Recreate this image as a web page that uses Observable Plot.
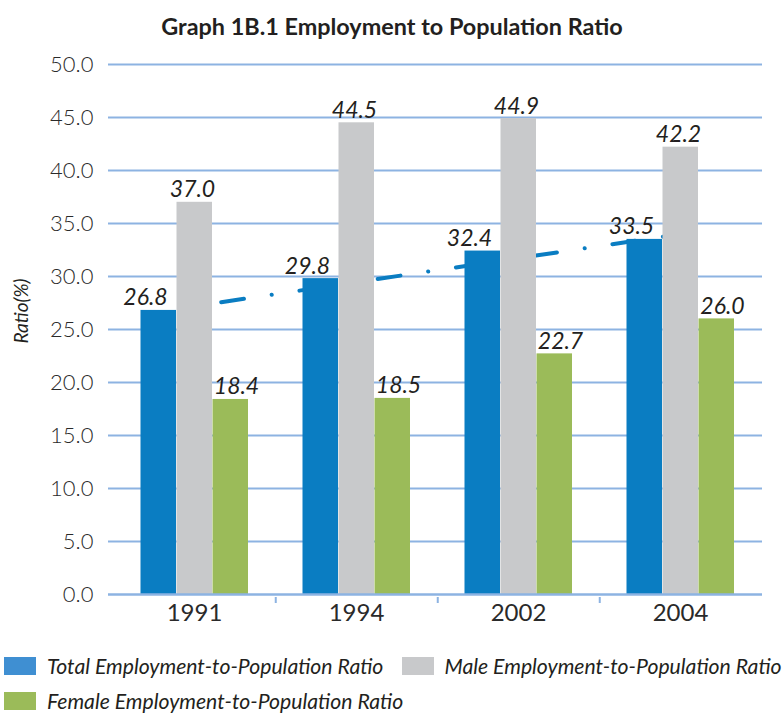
<!DOCTYPE html>
<html><head><meta charset="utf-8">
<script src="https://cdn.jsdelivr.net/npm/d3@7"></script>
<script src="https://cdn.jsdelivr.net/npm/@observablehq/plot@0.6"></script>
<style>
body{margin:0;background:#fff;width:784px;height:714px;overflow:hidden;position:relative;font-family:Lato,"Open Sans",sans-serif;}
#title{position:absolute;left:0;top:12px;width:784px;text-align:center;font-weight:700;font-size:23.4px;line-height:28px;color:#231f20;}
#chart{position:absolute;left:0;top:44px;}
#ylabel{position:absolute;left:20px;top:311px;transform:translate(-50%,-50%) rotate(-90deg);font-style:italic;font-size:19px;color:#231f20;white-space:nowrap;}
.leg{position:absolute;display:flex;align-items:center;height:22px;line-height:22px;font-style:italic;font-size:21.2px;color:#231f20;white-space:nowrap;}
.sw{width:32px;height:18px;margin-right:11px;flex:none;}
#chart svg [aria-label="y-axis tick label"] text{font-size:22px;font-weight:300;fill:#2a2a2a;}
#chart svg [aria-label="x-axis tick label"] text{font-size:24px;font-weight:400;fill:#2a2a2a;}
</style></head><body>
<div id="title">Graph 1B.1 Employment to Population Ratio</div>
<div id="chart"></div>
<div id="ylabel">Ratio(%)</div>
<div id="legend"></div>
<script>
// ---- data ----
const years = ["1991", "1994", "2002", "2004"];
const totalValues = [26.8, 29.8, 32.4, 33.5];
const maleValues = [37.0, 44.5, 44.9, 42.2];
const femaleValues = [18.4, 18.5, 22.7, 26.0];
const seriesNames = [
  "Total Employment-to-Population Ratio",
  "Male Employment-to-Population Ratio",
  "Female Employment-to-Population Ratio"
];
const yTicks = [0, 5, 10, 15, 20, 25, 30, 35, 40, 45, 50];
const trendYears = ["1991", "2004"];
const trendValues = [27.2, 34.0];

// ---- styles ----
const seriesColors = ["#0a7dc2", "#c8c9cb", "#9bbb59"];
const legendColors = ["#3f8fd2", "#c8c9cb", "#9bbb59"];
const gridColor = "#8db3e2";
const textColor = "#231f20";

const toRows = vals => years.map((year, i) => ({year, value: vals[i]}));
const totalRows = toRows(totalValues);
const maleRows = toRows(maleValues);
const femaleRows = toRows(femaleValues);
const trendRows = trendYears.map((year, i) => ({year, value: trendValues[i]}));
const boundaryYears = years.slice(0, -1);

const labelOpts = (dx) => ({
  x: "year", y: "value", text: d => d.value.toFixed(1),
  dx, dy: -5, lineAnchor: "bottom", fontStyle: "italic",
  fontSize: 23, fill: textColor, fontFamily: "Lato"
});

const chart = Plot.plot({
  width: 784,
  height: 600,
  marginTop: 20,
  marginBottom: 50,
  marginLeft: 108,
  marginRight: 22,
  style: {fontFamily: "Lato, sans-serif", background: "transparent", overflow: "visible"},
  x: {domain: years, range: [111.5, 761.5], padding: 0, label: null},
  y: {domain: [0, 50], label: null},
  marks: [
    Plot.ruleY(yTicks.slice(1), {stroke: gridColor, strokeWidth: 2.2}),
    Plot.lineY(trendRows, {
      x: "year", y: "value", stroke: "#0a7dc2", strokeWidth: 4,
      strokeLinecap: "round", strokeDasharray: "23,28,0.1,28", strokeDashoffset: 52.1
    }),
    Plot.barY(totalRows, {x: "year", y: "value", fill: seriesColors[0], insetLeft: 27.5, insetRight: 99}),
    Plot.barY(maleRows, {x: "year", y: "value", fill: seriesColors[1], insetLeft: 63.5, insetRight: 63}),
    Plot.barY(femaleRows, {x: "year", y: "value", fill: seriesColors[2], insetLeft: 99.5, insetRight: 27}),
    Plot.ruleY([0], {stroke: gridColor, strokeWidth: 2.5}),
    Plot.ruleX(boundaryYears, {x: d => d, y1: 0, y2: 0, dx: 81.25, insetTop: 3, insetBottom: -9, stroke: gridColor, strokeWidth: 2}),
    Plot.text(totalRows, labelOpts(-49)),
    Plot.text(maleRows, labelOpts(-2)),
    Plot.text(femaleRows, labelOpts(42)),
    Plot.axisY({ticks: yTicks, tickSize: 0, tickPadding: 15, tickFormat: d => d.toFixed(1), label: null}),
    Plot.axisX({tickSize: 0, tickPadding: 9, label: null})
  ]
});
document.getElementById("chart").append(chart);

// ---- legend ----
const legend = document.getElementById("legend");
const legPos = [[4, 655], [401.5, 655], [4, 690]];
seriesNames.forEach((name, i) => {
  const item = document.createElement("div");
  item.className = "leg";
  item.style.left = legPos[i][0] + "px";
  item.style.top = legPos[i][1] + "px";
  const sw = document.createElement("span");
  sw.className = "sw";
  sw.style.background = legendColors[i];
  const label = document.createElement("span");
  label.textContent = name;
  item.append(sw, label);
  legend.append(item);
});
</script>
</body></html>
